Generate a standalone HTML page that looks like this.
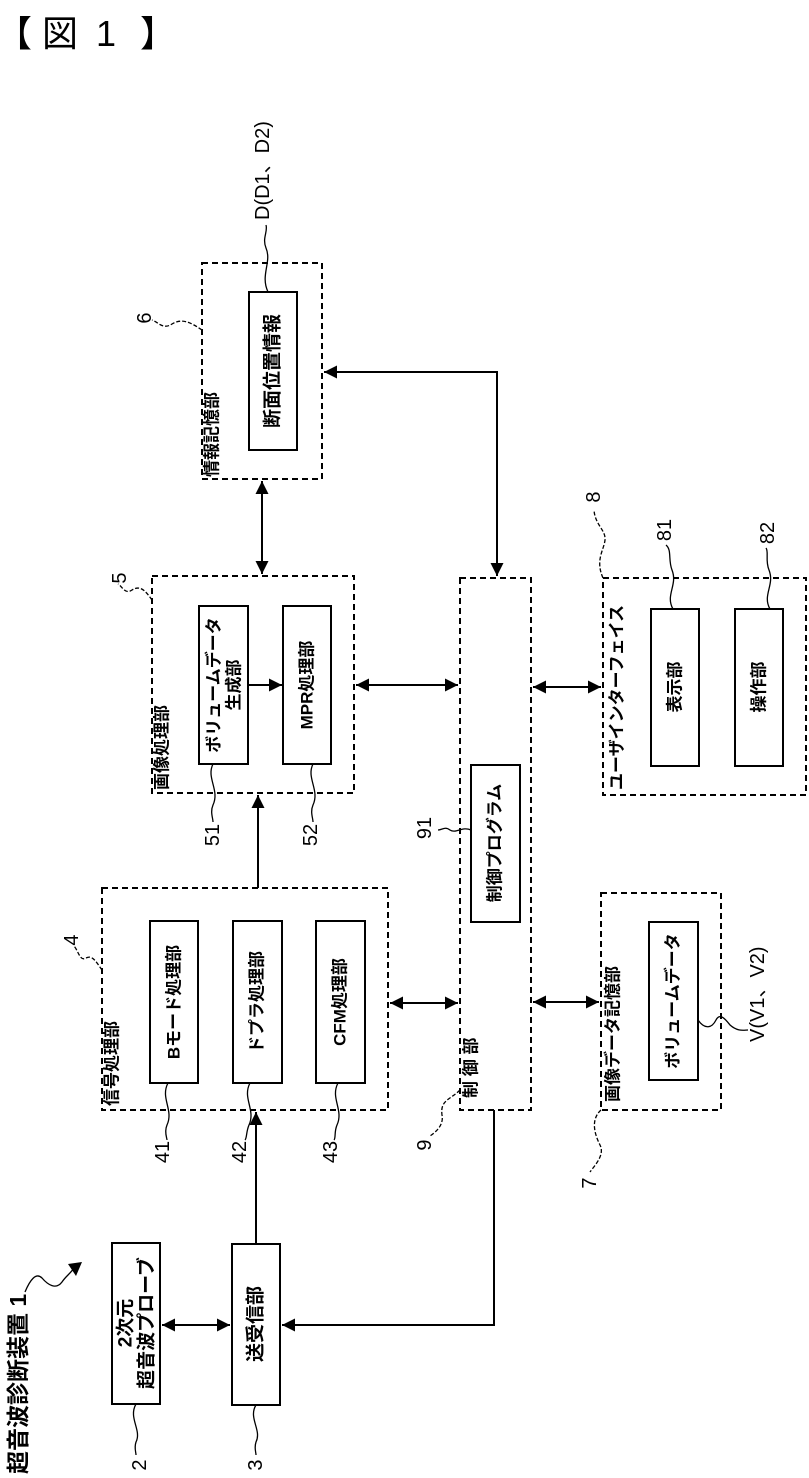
<!DOCTYPE html>
<html><head><meta charset="utf-8"><style>
html,body{margin:0;padding:0;background:#fff;}
svg{display:block;}
text{font-family:"Liberation Sans","Noto Sans CJK JP",sans-serif;fill:#000;}
.b{font-weight:bold;}
</style></head><body>
<svg width="809" height="1478" viewBox="0 0 809 1478" xmlns="http://www.w3.org/2000/svg">
<defs>
<marker id="a" viewBox="0 0 12 12" refX="12" refY="6" markerWidth="13" markerHeight="13" orient="auto-start-reverse" markerUnits="userSpaceOnUse">
<path d="M0,0 L12,6 L0,12 z" fill="#000"/>
</marker>
</defs>
<g font-size="36"><text x="-4" y="46">【</text><text x="42" y="46">図</text><text x="96" y="46">1</text><text x="140" y="46">】</text></g>

<g fill="none" stroke="#000" stroke-width="2" stroke-dasharray="6,4">
<rect x="202" y="263" width="120" height="216"/>
<rect x="152" y="576" width="202" height="217"/>
<rect x="102" y="888" width="286" height="222"/>
<rect x="460" y="578" width="71" height="532"/>
<rect x="603" y="578" width="203" height="217"/>
<rect x="601" y="893" width="120" height="217"/>
</g>
<g fill="#fff" stroke="#000" stroke-width="2">
<rect x="249" y="292" width="48" height="158"/>
<rect x="199" y="606" width="49" height="158"/>
<rect x="283" y="606" width="48" height="158"/>
<rect x="150" y="921" width="48" height="162"/>
<rect x="233" y="921" width="49" height="162"/>
<rect x="316" y="921" width="49" height="162"/>
<rect x="471" y="765" width="49" height="157"/>
<rect x="651" y="609" width="48" height="157"/>
<rect x="735" y="609" width="48" height="157"/>
<rect x="649" y="922" width="49" height="158"/>
<rect x="112" y="1243" width="48" height="161"/>
<rect x="232" y="1244" width="48" height="161"/>
</g>

<g fill="none" stroke="#000" stroke-width="2">
<line x1="262" y1="481" x2="262" y2="574" marker-start="url(#a)" marker-end="url(#a)"/>
<polyline points="324,372 497,372 497,576" marker-start="url(#a)" marker-end="url(#a)"/>
<line x1="248" y1="685" x2="282" y2="685" marker-end="url(#a)"/>
<line x1="356" y1="685" x2="458" y2="685" marker-start="url(#a)" marker-end="url(#a)"/>
<line x1="533" y1="687" x2="601" y2="687" marker-start="url(#a)" marker-end="url(#a)"/>
<line x1="390" y1="1003" x2="458" y2="1003" marker-start="url(#a)" marker-end="url(#a)"/>
<line x1="533" y1="1002" x2="599" y2="1002" marker-start="url(#a)" marker-end="url(#a)"/>
<line x1="258" y1="888" x2="258" y2="795" marker-end="url(#a)"/>
<line x1="256" y1="1244" x2="256" y2="1112" marker-end="url(#a)"/>
<line x1="162" y1="1325" x2="230" y2="1325" marker-start="url(#a)" marker-end="url(#a)"/>
<polyline points="494,1110 494,1325 282,1325" marker-end="url(#a)"/>
</g>

<g fill="none" stroke="#000" stroke-width="1.3">
<path d="M268,292 C260,275 272,262 266,248 C262,238 268,232 266,225"/>
<path d="M202,330 C190,322 182,318 172,324 C163,330 158,322 152,320" stroke-dasharray="4,2"/>
<path d="M152,600 C145,590 140,585 132,590 C125,595 122,586 118,584" stroke-dasharray="4,2"/>
<path d="M213,764 C206,778 220,790 213,805 C210,812 213,818 213,822"/>
<path d="M313,764 C306,778 320,790 313,805 C310,812 313,818 313,822"/>
<path d="M102,970 C95,960 92,955 86,958 C80,962 78,950 74,946" stroke-dasharray="4,2"/>
<path d="M168,1083 C160,1098 174,1110 167,1125 C164,1132 167,1138 167,1140"/>
<path d="M250,1083 C242,1098 256,1110 249,1125 C246,1132 247,1138 245,1140"/>
<path d="M338,1083 C330,1098 344,1110 337,1125 C334,1132 336,1138 334,1140"/>
<path d="M136,1404 C128,1418 142,1430 136,1442 C134,1448 136,1452 136,1455"/>
<path d="M256,1405 C248,1418 262,1430 256,1442 C254,1448 256,1452 256,1455"/>
<path d="M471,830 C462,826 456,834 450,830 C445,826 442,830 438,830"/>
<path d="M460,1090 C450,1100 440,1100 442,1115 C444,1125 436,1132 430,1136" stroke-dasharray="4,2"/>
<path d="M601,1110 C590,1120 595,1135 600,1145 C605,1155 595,1165 590,1172" stroke-dasharray="4,2"/>
<path d="M698,1020 C705,1030 712,1028 716,1020 C720,1012 726,1020 730,1025 C738,1032 744,1030 748,1030"/>
<path d="M603,578 C595,560 604,550 605,540 C606,530 595,525 594,510" stroke-dasharray="4,2"/>
<path d="M673,609 C665,595 678,585 672,570 C668,560 672,550 666,545"/>
<path d="M770,609 C762,595 775,585 769,570 C765,560 769,552 766,548"/>
<path d="M25,1292 C30,1280 36,1272 42,1278 C48,1285 56,1290 62,1282 C66,1276 70,1274 74,1268"/>
</g>
<path d="M82,1262 L68,1264 L76,1276 z" fill="#000"/>

<g font-size="17" class="b" text-anchor="middle" dominant-baseline="central">
<text transform="translate(273,371) rotate(-90)" font-size="19">断面位置情報</text>
<text transform="translate(214,685) rotate(-90)">ボリュームデータ</text>
<text transform="translate(234,685) rotate(-90)">生成部</text>
<text transform="translate(307,685) rotate(-90)">MPR処理部</text>
<text transform="translate(174,1002) rotate(-90)">Bモード処理部</text>
<text transform="translate(257,1002) rotate(-90)">ドプラ処理部</text>
<text transform="translate(340,1002) rotate(-90)">CFM処理部</text>
<text transform="translate(495,843) rotate(-90)">制御プログラム</text>
<text transform="translate(675,687) rotate(-90)">表示部</text>
<text transform="translate(759,687) rotate(-90)">操作部</text>
<text transform="translate(673,1001) rotate(-90)">ボリュームデータ</text>
<text transform="translate(126,1323) rotate(-90)" font-size="19">2次元</text>
<text transform="translate(147,1323) rotate(-90)" font-size="19">超音波プローブ</text>
<text transform="translate(256,1324) rotate(-90)" font-size="19">送受信部</text>
</g>

<g font-size="17" class="b" dominant-baseline="central">
<text transform="translate(212,477) rotate(-90)">情報記憶部</text>
<text transform="translate(162,790) rotate(-90)">画像処理部</text>
<text transform="translate(112,1106) rotate(-90)">信号処理部</text>
<text transform="translate(471,1098) rotate(-90)">制 御 部</text>
<text transform="translate(613,1102) rotate(-90)">画像データ記憶部</text>
<text transform="translate(617,790) rotate(-90)">ユーザインターフェイス</text>
<text transform="translate(18,1474) rotate(-90)" font-size="23">超音波診断装置 1</text>
</g>

<g font-size="20" dominant-baseline="central">
<text transform="translate(263,220) rotate(-90)">D(D1、D2)</text>
<text transform="translate(758,1042) rotate(-90)">V(V1、V2)</text>
</g>
<g font-size="20" text-anchor="middle" dominant-baseline="central">
<text transform="translate(145,318) rotate(-90)">6</text>
<text transform="translate(120,578) rotate(-90)">5</text>
<text transform="translate(213,835) rotate(-90)">51</text>
<text transform="translate(311,835) rotate(-90)">52</text>
<text transform="translate(72,940) rotate(-90)">4</text>
<text transform="translate(163,1152) rotate(-90)">41</text>
<text transform="translate(240,1152) rotate(-90)">42</text>
<text transform="translate(331,1152) rotate(-90)">43</text>
<text transform="translate(140,1465) rotate(-90)">2</text>
<text transform="translate(256,1465) rotate(-90)">3</text>
<text transform="translate(425,828) rotate(-90)">91</text>
<text transform="translate(425,1145) rotate(-90)">9</text>
<text transform="translate(590,1183) rotate(-90)">7</text>
<text transform="translate(594,497) rotate(-90)">8</text>
<text transform="translate(665,530) rotate(-90)">81</text>
<text transform="translate(768,533) rotate(-90)">82</text>
</g>
</svg>
</body></html>
